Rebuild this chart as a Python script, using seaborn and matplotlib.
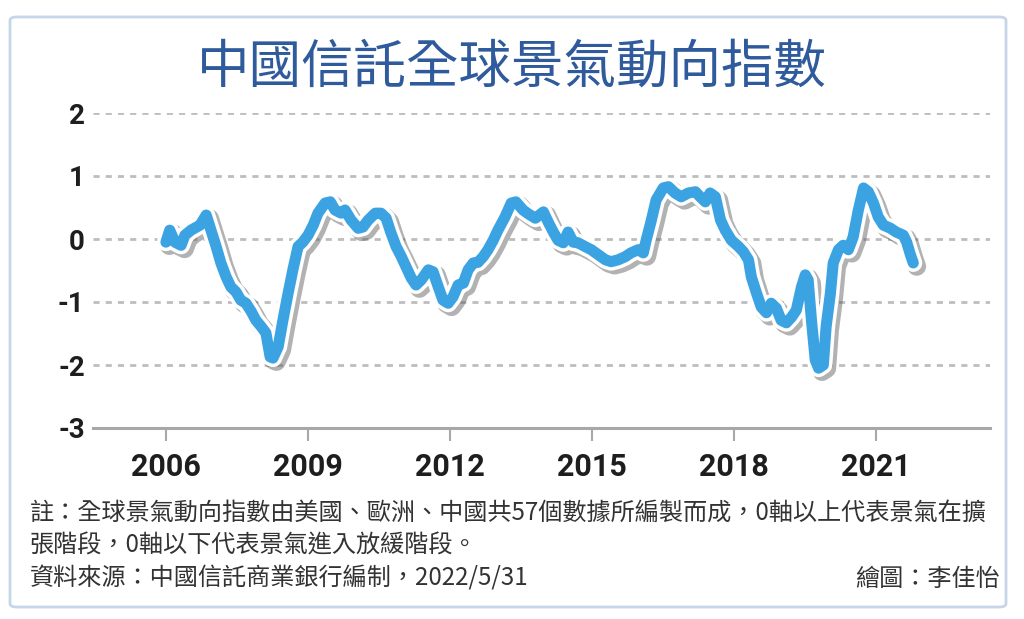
import matplotlib
matplotlib.use("Agg")
import matplotlib.pyplot as plt
import matplotlib.patheffects as pe
from matplotlib.patches import FancyBboxPatch
from matplotlib import font_manager
import seaborn as sns
import pandas as pd

# ---- data ----
years = [2006.0, 2006.08, 2006.19, 2006.32, 2006.40, 2006.53, 2006.72, 2006.85, 2006.95,
         2007.06, 2007.16, 2007.27, 2007.37, 2007.48, 2007.58, 2007.69, 2007.80, 2007.90,
         2008.01, 2008.11, 2008.20, 2008.26, 2008.37, 2008.47, 2008.58, 2008.68, 2008.79,
         2008.89, 2009.00, 2009.11, 2009.21, 2009.36, 2009.47, 2009.57, 2009.70, 2009.78,
         2009.91, 2010.06, 2010.16, 2010.27, 2010.42, 2010.54, 2010.65, 2010.75, 2010.86,
         2010.97, 2011.07, 2011.18, 2011.28, 2011.39, 2011.54, 2011.64, 2011.75, 2011.85,
         2011.96, 2012.06, 2012.17, 2012.28, 2012.38, 2012.49, 2012.59, 2012.70, 2012.80,
         2012.91, 2013.01, 2013.16, 2013.29, 2013.39, 2013.54, 2013.65, 2013.80, 2013.97,
         2014.07, 2014.18, 2014.28, 2014.39, 2014.49, 2014.60, 2014.70, 2014.85, 2014.98,
         2015.13, 2015.28, 2015.40, 2015.55, 2015.70, 2015.82, 2015.97, 2016.08, 2016.14,
         2016.25, 2016.35, 2016.50, 2016.61, 2016.75, 2016.88, 2017.03, 2017.18, 2017.28,
         2017.39, 2017.49, 2017.60, 2017.71, 2017.81, 2017.94, 2018.09, 2018.19, 2018.30,
         2018.36, 2018.47, 2018.57, 2018.68, 2018.78, 2018.89, 2018.99, 2019.10, 2019.21,
         2019.31, 2019.42, 2019.50, 2019.56, 2019.63, 2019.71, 2019.78, 2019.88, 2019.94,
         2020.03, 2020.09, 2020.20, 2020.30, 2020.41, 2020.51, 2020.62, 2020.73, 2020.83,
         2020.94, 2021.04, 2021.15, 2021.30, 2021.42, 2021.57, 2021.64, 2021.72, 2021.78]
index_values = [-0.05, 0.14, -0.05, -0.10, 0.06, 0.14, 0.22, 0.38, 0.14,
                -0.12, -0.38, -0.60, -0.76, -0.84, -0.97, -1.02, -1.15, -1.29,
                -1.39, -1.49, -1.87, -1.89, -1.71, -1.29, -0.86, -0.49, -0.12,
                -0.05, 0.06, 0.22, 0.41, 0.57, 0.59, 0.46, 0.41, 0.46,
                0.30, 0.17, 0.19, 0.30, 0.41, 0.41, 0.33, 0.10, -0.12,
                -0.28, -0.44, -0.62, -0.73, -0.65, -0.49, -0.52, -0.76, -0.97,
                -1.02, -0.92, -0.73, -0.70, -0.49, -0.38, -0.37, -0.28, -0.17,
                -0.02, 0.14, 0.35, 0.57, 0.59, 0.46, 0.40, 0.33, 0.43,
                0.27, 0.11, -0.02, -0.06, 0.11, -0.05, -0.06, -0.12, -0.17,
                -0.25, -0.33, -0.36, -0.33, -0.28, -0.22, -0.17, -0.22, -0.02,
                0.30, 0.62, 0.81, 0.83, 0.73, 0.67, 0.73, 0.75, 0.67,
                0.59, 0.73, 0.67, 0.30, 0.14, -0.02, -0.12, -0.20, -0.33,
                -0.60, -0.86, -1.08, -1.17, -1.02, -1.10, -1.29, -1.33, -1.24,
                -1.13, -0.76, -0.57, -0.65, -1.29, -1.92, -2.05, -2.00, -1.39,
                -0.86, -0.38, -0.17, -0.10, -0.17, 0.03, 0.46, 0.81, 0.75,
                0.57, 0.35, 0.22, 0.17, 0.11, 0.06, -0.05, -0.25, -0.38]
x_ticks = [2006, 2009, 2012, 2015, 2018, 2021]
y_ticks = [2, 1, 0, -1, -2, -3]

title = "中國信託全球景氣動向指數"
note1 = "註：全球景氣動向指數由美國、歐洲、中國共57個數據所編製而成，0軸以上代表景氣在擴"
note2 = "張階段，0軸以下代表景氣進入放緩階段。"
source = "資料來源：中國信託商業銀行編制，2022/5/31"
credit = "繪圖：李佳怡"

df = pd.DataFrame({"year": years, "value": index_values})

# ---- fonts ----
sns.set_theme(style="white")
avail = {f.name for f in font_manager.fontManager.ttflist}
num_font = "Roboto" if "Roboto" in avail else "DejaVu Sans"
cjk = ["Noto Sans CJK TC", "DejaVu Sans"]
plt.rcParams["font.family"] = cjk

fig = plt.figure(figsize=(10.24, 6.19), dpi=100)
fig.patch.set_facecolor("white")

# framed card (behind everything)
card = FancyBboxPatch((10 / 1024, 1 - 607 / 619), (1006 - 10) / 1024, (607 - 17) / 619,
                      boxstyle="round,pad=0,rounding_size=0.006",
                      transform=fig.transFigure, facecolor="white",
                      edgecolor="#c6d6e8", linewidth=2.0, zorder=-10)
fig.patches.append(card)

ax = fig.add_axes([93 / 1024, 1 - 428 / 619, (990 - 93) / 1024, (428 - 113) / 619])
ax.set_zorder(2)
ax.set_facecolor("none")

sns.lineplot(data=df, x="year", y="value", ax=ax, color="#3ca3e3", linewidth=8.0,
             solid_joinstyle="round", solid_capstyle="round", zorder=5, clip_on=False)
line = ax.lines[0]
line.set_path_effects([
    pe.SimpleLineShadow(offset=(2.5, -2.5), shadow_color="#555555", alpha=0.45, linewidth=13.5),
    pe.Stroke(linewidth=13, foreground="white"),
    pe.Normal(),
])

ax.set_xlim(2004.46, 2023.4)
ax.set_ylim(-3, 2)
ax.set_xticks(x_ticks)
ax.set_xticklabels([str(t) for t in x_ticks], fontfamily=num_font, fontsize=22,
                   fontweight="bold", color="#1e1e1e")
ax.set_yticks(y_ticks)
ax.set_yticklabels([str(t) for t in y_ticks], fontfamily=num_font, fontsize=20,
                   fontweight="bold", color="#1e1e1e")
ax.tick_params(axis="x", bottom=True, direction="out", length=9, width=1.5,
               color="#a8a8a8", pad=8)
ax.tick_params(axis="y", left=False, length=0, pad=6)
ax.set_xlabel("")
ax.set_ylabel("")

for v in y_ticks[:-1]:
    ax.axhline(v, color="#bdbdbd", linewidth=2, linestyle=(0, (2.2, 2.2)), zorder=1)

for s in ["top", "right", "left"]:
    ax.spines[s].set_visible(False)
ax.spines["bottom"].set_color("#a8a8a8")
ax.spines["bottom"].set_linewidth(2.2)
ax.grid(False)

# title
fig.text(0.5, 1 - 68 / 619, title, ha="center", va="center", fontsize=37.8,
         color="#2f5b9c", family=cjk)

# notes
fs = 17.4
fig.text(30 / 1024, 1 - 513 / 619, note1, ha="left", va="center", fontsize=fs,
         color="#333333", family=cjk)
fig.text(30 / 1024, 1 - 545 / 619, note2, ha="left", va="center", fontsize=fs,
         color="#333333", family=cjk)
fig.text(30 / 1024, 1 - 579 / 619, source, ha="left", va="center", fontsize=fs,
         color="#333333", family=cjk)
fig.text(1000 / 1024, 1 - 579 / 619, credit, ha="right", va="center", fontsize=fs,
         color="#333333", family=cjk)

fig.savefig("out.png", dpi=100, facecolor=fig.get_facecolor())
